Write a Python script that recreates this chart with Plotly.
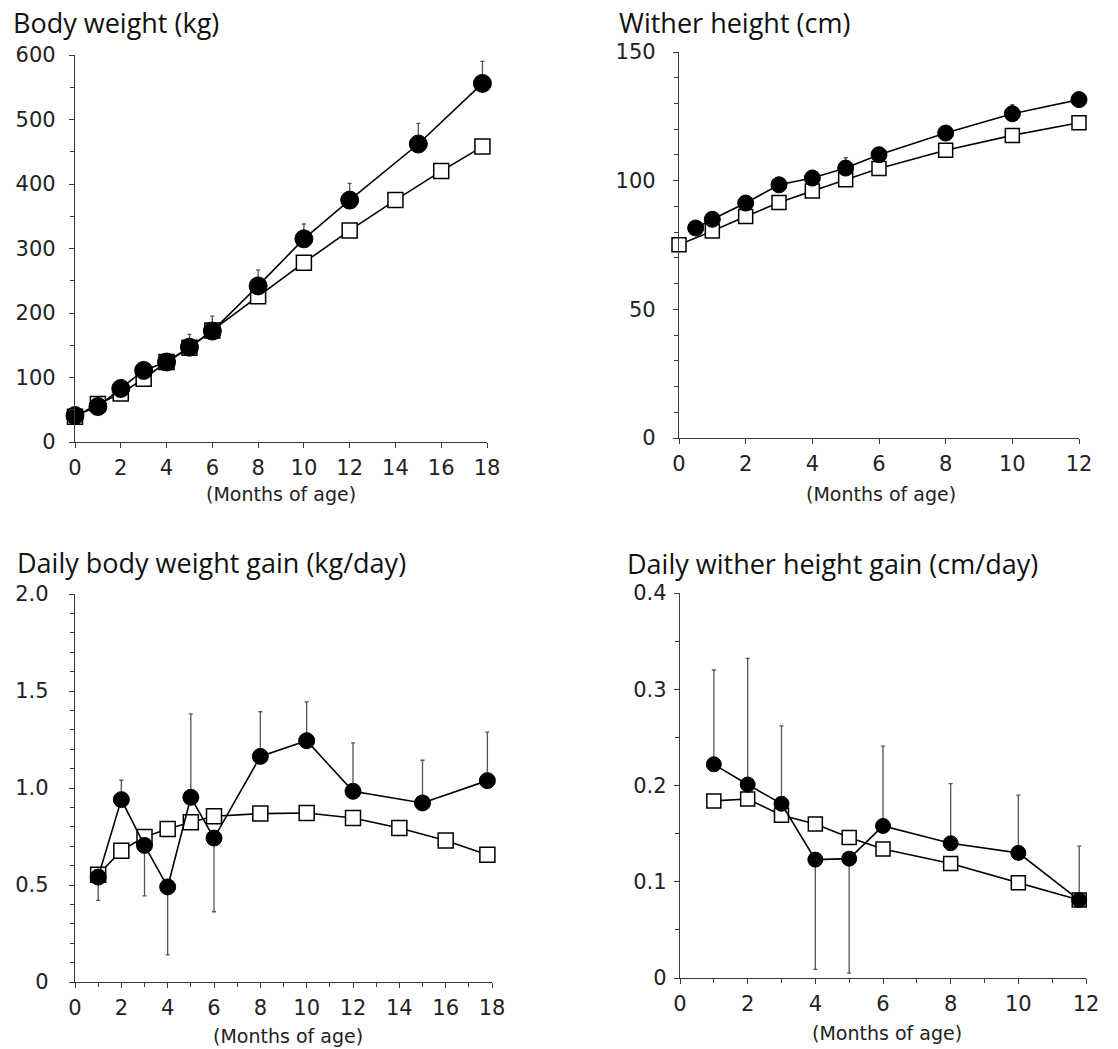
import plotly.graph_objects as go

# ---------- Data ----------
# Panel A: Body weight (kg)
bw_x_circ = [0, 1, 2, 3, 4, 5, 6, 8, 10, 12, 15, 17.8]
bw_y_circ = [41, 55, 83, 111, 124, 147, 172, 242, 315, 375, 462, 556]
bw_e_circ = [3, 4, 5, 6, 8, 20, 23, 25, 23, 26, 32, 34]
bw_x_sq = [0, 1, 2, 3, 4, 5, 6, 8, 10, 12, 14, 16, 17.8]
bw_y_sq = [39, 59, 75, 98, 124, 146, 173, 226, 278, 328, 375, 420, 458]

# Panel B: Wither height (cm)
wh_x_circ = [0.5, 1, 2, 3, 4, 5, 6, 8, 10, 12]
wh_y_circ = [81.6, 85.0, 91.3, 98.4, 101.0, 104.9, 110.1, 118.5, 126.0, 131.5]
wh_e_circ = [1, 1.5, 1.5, 1.5, 3, 4, 2, 2, 3.5, 2.5]
wh_x_sq = [0, 1, 2, 3, 4, 5, 6, 8, 10, 12]
wh_y_sq = [75.1, 80.4, 86.1, 91.5, 96.0, 100.4, 104.7, 111.8, 117.6, 122.5]

# Panel C: Daily body weight gain (kg/day)
dg_x_circ = [1, 2, 3, 4, 5, 6, 8, 10, 12, 15, 17.8]
dg_y_circ = [0.541, 0.940, 0.704, 0.490, 0.952, 0.742, 1.163, 1.244, 0.983, 0.923, 1.038]
dg_ep_circ = [0, 0.10, 0, 0, 0.43, 0, 0.23, 0.20, 0.25, 0.22, 0.25]
dg_em_circ = [0.12, 0, 0.26, 0.35, 0, 0.38, 0, 0, 0, 0, 0]
dg_x_sq = [1, 2, 3, 4, 5, 6, 8, 10, 12, 14, 16, 17.8]
dg_y_sq = [0.553, 0.677, 0.747, 0.789, 0.823, 0.854, 0.868, 0.871, 0.845, 0.794, 0.729, 0.656]

# Panel D: Daily wither height gain (cm/day)
dh_x_circ = [1, 2, 3, 4, 5, 6, 8, 10, 11.8]
dh_y_circ = [0.222, 0.201, 0.181, 0.123, 0.124, 0.158, 0.140, 0.130, 0.081]
dh_ep_circ = [0.098, 0.131, 0.081, 0, 0, 0.083, 0.062, 0.060, 0.056]
dh_em_circ = [0, 0, 0, 0.114, 0.119, 0, 0, 0, 0]
dh_x_sq = [1, 2, 3, 4, 5, 6, 8, 10, 11.8]
dh_y_sq = [0.184, 0.186, 0.169, 0.160, 0.146, 0.134, 0.119, 0.099, 0.081]

titles = ["Body weight (kg)", "Wither height (cm)",
          "Daily body weight gain (kg/day)", "Daily wither height gain (cm/day)"]
xlabel = "(Months of age)"

# ---------- Layout helpers ----------
W, H = 1118, 1049
def dx(a, b):
    return [a / W, b / W]
def dy(top, bottom):
    return [1 - bottom / H, 1 - top / H]

TICKFONT = dict(family="DejaVu Sans", size=21, color="#222")
AXCOL = "#3a3a3a"
ERRCOL = "#555"

fig = go.Figure()

def add_panel(n, xs_sq, ys_sq, xs_c, ys_c, ep, em, msize_c, msize_s):
    xa = "x" if n == 1 else f"x{n}"
    ya = "y" if n == 1 else f"y{n}"
    fig.add_trace(go.Scatter(
        x=xs_sq, y=ys_sq, mode="lines+markers", xaxis=xa, yaxis=ya,
        line=dict(color="black", width=1.6),
        marker=dict(symbol="square", size=msize_s, color="white",
                    line=dict(color="black", width=1.5)),
        cliponaxis=False, showlegend=False))
    err = dict(type="data", array=ep, visible=True, color=ERRCOL,
               thickness=1.3, width=2)
    if em is not None:
        err["symmetric"] = False
        err["arrayminus"] = em
    fig.add_trace(go.Scatter(
        x=xs_c, y=ys_c, mode="lines+markers", xaxis=xa, yaxis=ya,
        line=dict(color="black", width=1.6),
        marker=dict(symbol="circle", size=msize_c, color="black",
                    line=dict(color="black", width=1)),
        error_y=err, cliponaxis=False, showlegend=False))

add_panel(1, bw_x_sq, bw_y_sq, bw_x_circ, bw_y_circ, bw_e_circ, [0] * len(bw_e_circ), 18, 15)
add_panel(2, wh_x_sq, wh_y_sq, wh_x_circ, wh_y_circ, wh_e_circ, [0] * len(wh_e_circ), 16, 14)
add_panel(3, dg_x_sq, dg_y_sq, dg_x_circ, dg_y_circ, dg_ep_circ, dg_em_circ, 16, 15)
add_panel(4, dh_x_sq, dh_y_sq, dh_x_circ, dh_y_circ, dh_ep_circ, dh_em_circ, 15, 14)

def xaxis(dom, rng, dtick, minor_dtick, anchor):
    d = dict(domain=dom, range=rng, anchor=anchor, showgrid=False, zeroline=False,
             showline=True, linecolor=AXCOL, linewidth=1.3, ticks="outside",
             ticklen=5, tickwidth=1.2, tickcolor=AXCOL, tickfont=TICKFONT,
             tick0=0, dtick=dtick, ticklabelstandoff=2)
    if minor_dtick:
        d["minor"] = dict(dtick=minor_dtick, ticks="outside", ticklen=4,
                          tickcolor=AXCOL, tickwidth=1.2, showgrid=False)
    return d

def yaxis(dom, rng, tickvals, ticktext, minor_dtick, anchor, standoff):
    return dict(domain=dom, range=rng, anchor=anchor, showgrid=False, zeroline=False,
                showline=True, linecolor=AXCOL, linewidth=1.3, ticks="outside",
                ticklen=5, tickwidth=1.2, tickcolor=AXCOL, tickfont=TICKFONT,
                tickvals=tickvals, ticktext=ticktext, ticklabelstandoff=standoff,
                minor=dict(dtick=minor_dtick, tick0=0, ticks="outside", ticklen=4,
                           tickcolor=AXCOL, tickwidth=1.2, showgrid=False))

fig.update_layout(
    width=W, height=H, margin=dict(l=0, r=0, t=0, b=0, autoexpand=False),
    paper_bgcolor="white", plot_bgcolor="white",
    xaxis=xaxis(dx(75, 487), [0, 18], 2, None, "y"),
    yaxis=yaxis(dy(55, 442), [0, 600], [0, 100, 200, 300, 400, 500, 600],
                ["0", "100", "200", "300", "400", "500", "600"], 50, "x", 9),
    xaxis2=xaxis(dx(679, 1079), [0, 12], 2, None, "y2"),
    yaxis2=yaxis(dy(52, 438), [0, 150], [0, 50, 100, 150],
                 ["0", "50", "100", "150"], 10, "x2", 13),
    xaxis3=xaxis(dx(75, 492), [0, 18], 2, 1, "y3"),
    yaxis3=yaxis(dy(594, 982), [0, 2.0], [0, 0.5, 1.0, 1.5, 2.0],
                 ["0", "0.5", "1.0", "1.5", "2.0"], 0.1, "x3", 16),
    xaxis4=xaxis(dx(680, 1086), [0, 12], 2, 1, "y4"),
    yaxis4=yaxis(dy(593, 978), [0, 0.4], [0, 0.1, 0.2, 0.3, 0.4],
                 ["0", "0.1", "0.2", "0.3", "0.4"], 0.05, "x4", 3),
)

TITLEFONT = dict(family="Open Sans", size=27, color="#111")
title_pos = [(11, 23), (617, 23), (15, 562), (625, 563)]
for t, (px, py) in zip(titles, title_pos):
    fig.add_annotation(text=t, xref="paper", yref="paper", x=px / W, y=1 - py / H,
                       xanchor="left", yanchor="middle", showarrow=False, font=TITLEFONT)

XLFONT = dict(family="DejaVu Sans", size=19, color="#222")
xl_pos = [(281, 494), (881, 494), (288, 1036), (887, 1033)]
for (px, py) in xl_pos:
    fig.add_annotation(text=xlabel, xref="paper", yref="paper", x=px / W, y=1 - py / H,
                       xanchor="center", yanchor="middle", showarrow=False, font=XLFONT)

fig.write_html("out.html", config={"displayModeBar": False},
               post_script="document.body.style.margin='0px';")
